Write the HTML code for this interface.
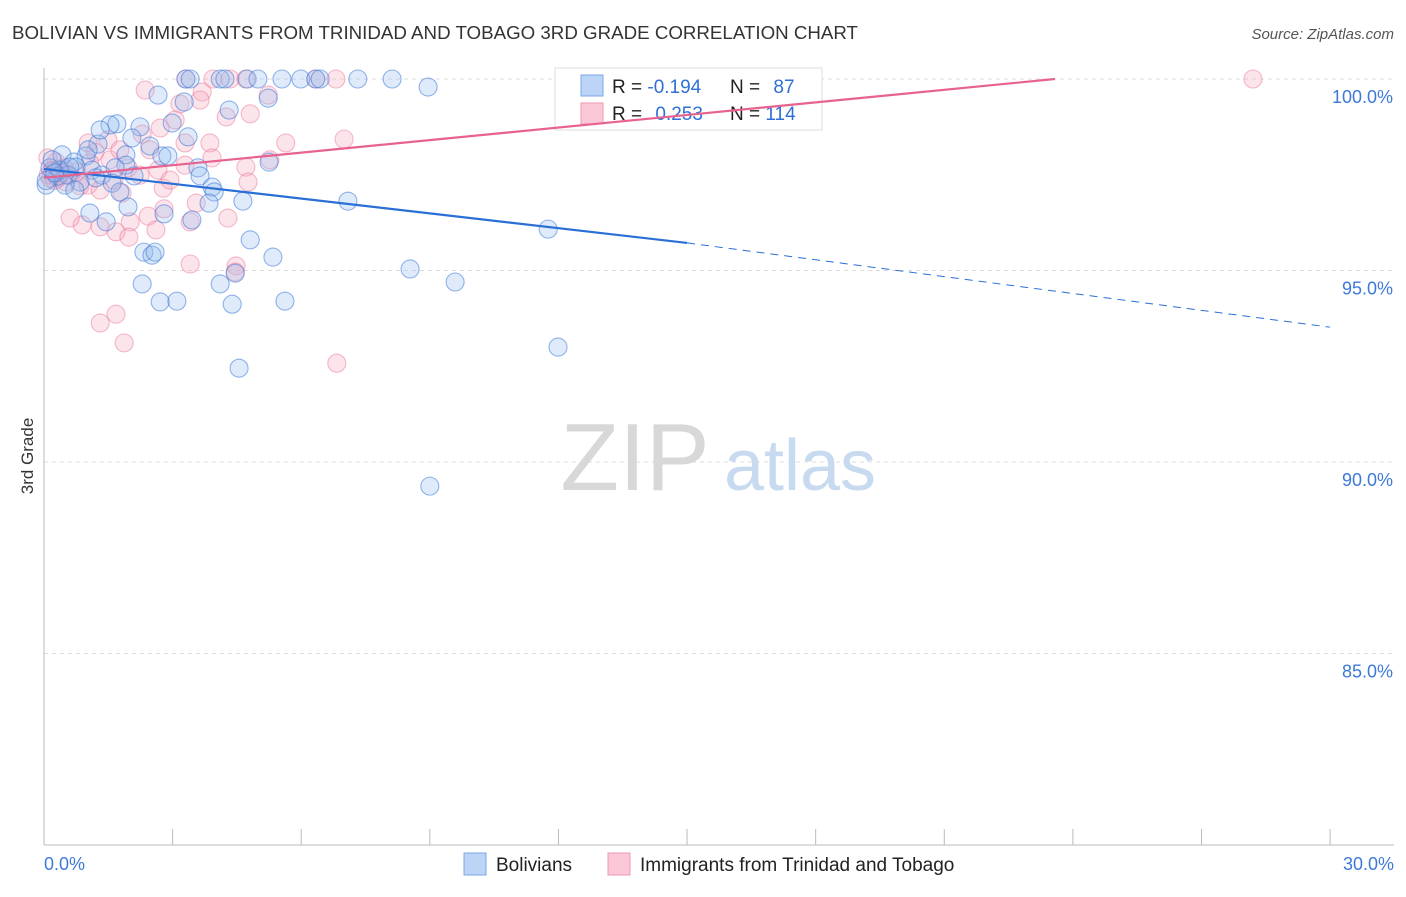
<!DOCTYPE html>
<html><head><meta charset="utf-8">
<style>
body{margin:0;background:#fff;font-family:"Liberation Sans",sans-serif;}
svg text{font-family:"Liberation Sans",sans-serif;}
</style></head>
<body>
<svg id="chart" width="1406" height="892" viewBox="0 0 1406 892">
<text x="12" y="39" font-size="18" fill="#333" textLength="846" lengthAdjust="spacingAndGlyphs">BOLIVIAN VS IMMIGRANTS FROM TRINIDAD AND TOBAGO 3RD GRADE CORRELATION CHART</text>
<text x="1394" y="39" font-size="15" fill="#555" font-style="italic" text-anchor="end">Source: ZipAtlas.com</text>
<text x="33" y="456" font-size="17" fill="#333" transform="rotate(-90 33 456)" text-anchor="middle">3rd Grade</text>
<g id="grid"></g>
<g>
<text x="635" y="490" font-size="96" fill="#d8d8d8" font-family="Liberation Serif" text-anchor="middle">ZIP</text>
<text x="800" y="490" font-size="72" fill="#c8daf0" text-anchor="middle">atlas</text>
</g>
<g id="axes"></g>
<g id="pts"></g>
<g>
<rect x="555" y="68" width="267" height="62" fill="#fff" stroke="#ddd"/>
<rect x="581" y="75" width="22" height="21" fill="#bcd4f5" stroke="#7aa8e8"/>
<rect x="581" y="103" width="22" height="21" fill="#fac8d6" stroke="#ef9ab4"/>
<text x="612" y="93" font-size="19" fill="#222">R = <tspan fill="#2f6fd6">-0.194</tspan></text>
<text x="730" y="93" font-size="19" fill="#222">N = <tspan fill="#2f6fd6" dx="8">87</tspan></text>
<text x="612" y="120" font-size="19" fill="#222">R = <tspan fill="#2f6fd6" dx="8">0.253</tspan></text>
<text x="730" y="120" font-size="19" fill="#222">N = <tspan fill="#2f6fd6">114</tspan></text>
</g>
<g id="lines"></g>
<g>
<rect x="464" y="853" width="22" height="22" fill="#bcd4f5" stroke="#7aa8e8"/>
<text x="496" y="871" font-size="19" fill="#222">Bolivians</text>
<rect x="608" y="853" width="22" height="22" fill="#fac8d6" stroke="#ef9ab4"/>
<text x="640" y="871" font-size="19" fill="#222">Immigrants from Trinidad and Tobago</text>
</g>
</svg>
<script>
const yTicks=[100,95,90,85];
const yTickLabels=["100.0%","95.0%","90.0%","85.0%"];
const xTickLabels=["0.0%","30.0%"];
const blueX=[3.31,3.41,4.11,4.22,4.74,4.99,5.55,5.99,6.34,6.44,7.32,8.12,8.96,2.66,3.27,5.23,4.32,2.99,1.70,2.24,3.36,2.05,2.47,1.26,0.98,0.42,0.70,1.91,2.75,2.89,1.91,0.75,1.12,1.35,2.10,3.59,3.64,3.92,3.97,5.25,0.33,0.05,3.85,4.64,7.09,1.96,2.80,1.07,3.45,1.45,11.76,4.81,2.33,2.52,2.59,5.34,8.54,9.59,2.29,4.11,2.71,3.10,4.39,5.62,11.99,4.55,9.00,4.46,0.14,0.37,0.56,0.84,1.66,1.59,1.77,1.21,0.19,0.49,0.72,1.54,1.31,1.03,0.05,0.25,0.60];
const blueY=[100,100,100,100,100,100,100,100,100,100,100,100,99.79,99.58,99.40,99.50,99.19,98.85,98.83,98.75,98.49,98.46,98.25,98.30,97.99,98.02,97.83,98.02,97.99,97.99,97.75,97.70,97.62,97.49,97.47,97.68,97.47,97.18,97.05,97.83,97.47,97.23,96.76,96.81,96.81,96.66,96.48,96.50,96.32,96.27,96.08,95.80,95.48,95.40,95.48,95.35,95.04,94.70,94.65,94.65,94.18,94.20,94.12,94.20,93.00,92.45,89.37,94.93,97.68,97.62,97.49,97.31,97.68,97.28,97.05,97.42,97.89,97.23,97.10,98.80,98.67,98.15,97.35,97.55,97.70];
const pinkX=[3.31,3.94,4.34,4.71,6.34,6.81,28.2,2.36,3.69,3.17,5.23,4.81,4.25,2.29,2.71,3.29,3.87,5.64,7.00,1.49,1.03,1.19,5.27,4.71,3.92,3.29,2.66,1.96,1.07,0.61,0.28,0.09,1.63,0.84,0.51,1.82,2.78,4.76,3.55,4.29,2.80,2.43,2.01,0.89,0.61,1.31,1.68,2.61,1.98,3.41,3.41,4.48,4.46,1.31,1.68,1.87,6.83,0.33,0.19,0.47,0.75,1.03,1.31,2.24,2.94,1.54,2.47,3.64,3.06,1.77,0.10,0.20,0.30,0.40,0.15,0.35,0.50,0.25];
const pinkY=[100,100,100,100,100,100,100,99.71,99.66,99.35,99.58,99.09,99.01,98.56,98.72,98.33,98.33,98.33,98.43,98.41,98.33,98.09,97.89,97.70,97.94,97.75,97.62,97.68,97.81,97.49,97.83,97.94,97.36,97.21,97.31,97.02,97.15,97.31,96.76,96.37,96.61,96.42,96.27,96.19,96.37,96.14,96.01,96.06,95.87,96.27,95.17,95.12,94.96,93.63,93.86,93.11,92.58,97.42,97.62,97.68,97.57,97.23,97.10,97.49,97.36,97.89,98.15,99.45,98.93,98.15,97.50,97.60,97.45,97.55,97.40,97.65,97.50,97.35];
const blueTrendX=[0,15,30];
const blueTrendY=[97.65,95.72,93.52];
const pinkTrendX=[0,23.58];
const pinkTrendY=[97.42,100];

const NS="http://www.w3.org/2000/svg";
const sx=v=>44+v*42.87;
const sy=v=>79+(100-v)*38.3;
function mk(tag,attrs,parent){const e=document.createElementNS(NS,tag);for(const k in attrs)e.setAttribute(k,attrs[k]);parent.appendChild(e);return e;}
const grid=document.getElementById('grid');
yTicks.forEach((t,i)=>{
  mk('line',{x1:44,x2:1394,y1:sy(t),y2:sy(t),stroke:'#ddd','stroke-dasharray':'4,4'},grid);
  const tx=mk('text',{x:1393,y:sy(t)+24,'font-size':18,fill:'#3d7ad8','text-anchor':'end'},grid);
  tx.textContent=yTickLabels[i];
  
  
});
const axes=document.getElementById('axes');
const ya=mk('line',{x1:44,x2:44,y1:68,y2:845,stroke:'#bbb'},axes);


const xa=mk('line',{x1:44,x2:1394,y1:845,y2:845,stroke:'#bbb'},axes);


for(let i=0;i<=10;i++){
  const x=sx(i*3);
  const tk=mk('line',{x1:x,x2:x,y1:829,y2:845,stroke:'#bbb'},axes);
  
  
}
[[0,'start',44],[1,'end',1394]].forEach(([i,a,x])=>{
  const t=mk('text',{x:x,y:870,'font-size':18,fill:'#3d7ad8','text-anchor':a},axes);
  t.textContent=xTickLabels[i];
  
  
});
const pts=document.getElementById('pts');
pinkX.forEach((v,i)=>{
  const c=mk('circle',{cx:sx(v),cy:sy(pinkY[i]),r:9,fill:'rgba(246,166,190,0.3)',stroke:'rgba(236,120,155,0.5)','stroke-width':1.1},pts);
  
  
});
blueX.forEach((v,i)=>{
  const c=mk('circle',{cx:sx(v),cy:sy(blueY[i]),r:9,fill:'rgba(150,190,240,0.3)',stroke:'rgba(60,120,215,0.55)','stroke-width':1.1},pts);
  
  
});
const lines=document.getElementById('lines');
const bl=mk('line',{x1:sx(blueTrendX[0]),y1:sy(blueTrendY[0]),x2:sx(blueTrendX[1]),y2:sy(blueTrendY[1]),stroke:'#2a6fd6','stroke-width':2.2},lines);


const bd=mk('line',{x1:sx(blueTrendX[1]),y1:sy(blueTrendY[1]),x2:sx(blueTrendX[2]),y2:sy(blueTrendY[2]),stroke:'#2a6fd6','stroke-width':1,'stroke-dasharray':'8,6'},lines);


const pl=mk('line',{x1:sx(pinkTrendX[0]),y1:sy(pinkTrendY[0]),x2:sx(pinkTrendX[1]),y2:sy(pinkTrendY[1]),stroke:'#e8628e','stroke-width':2.2},lines);


</script>
</body></html>
